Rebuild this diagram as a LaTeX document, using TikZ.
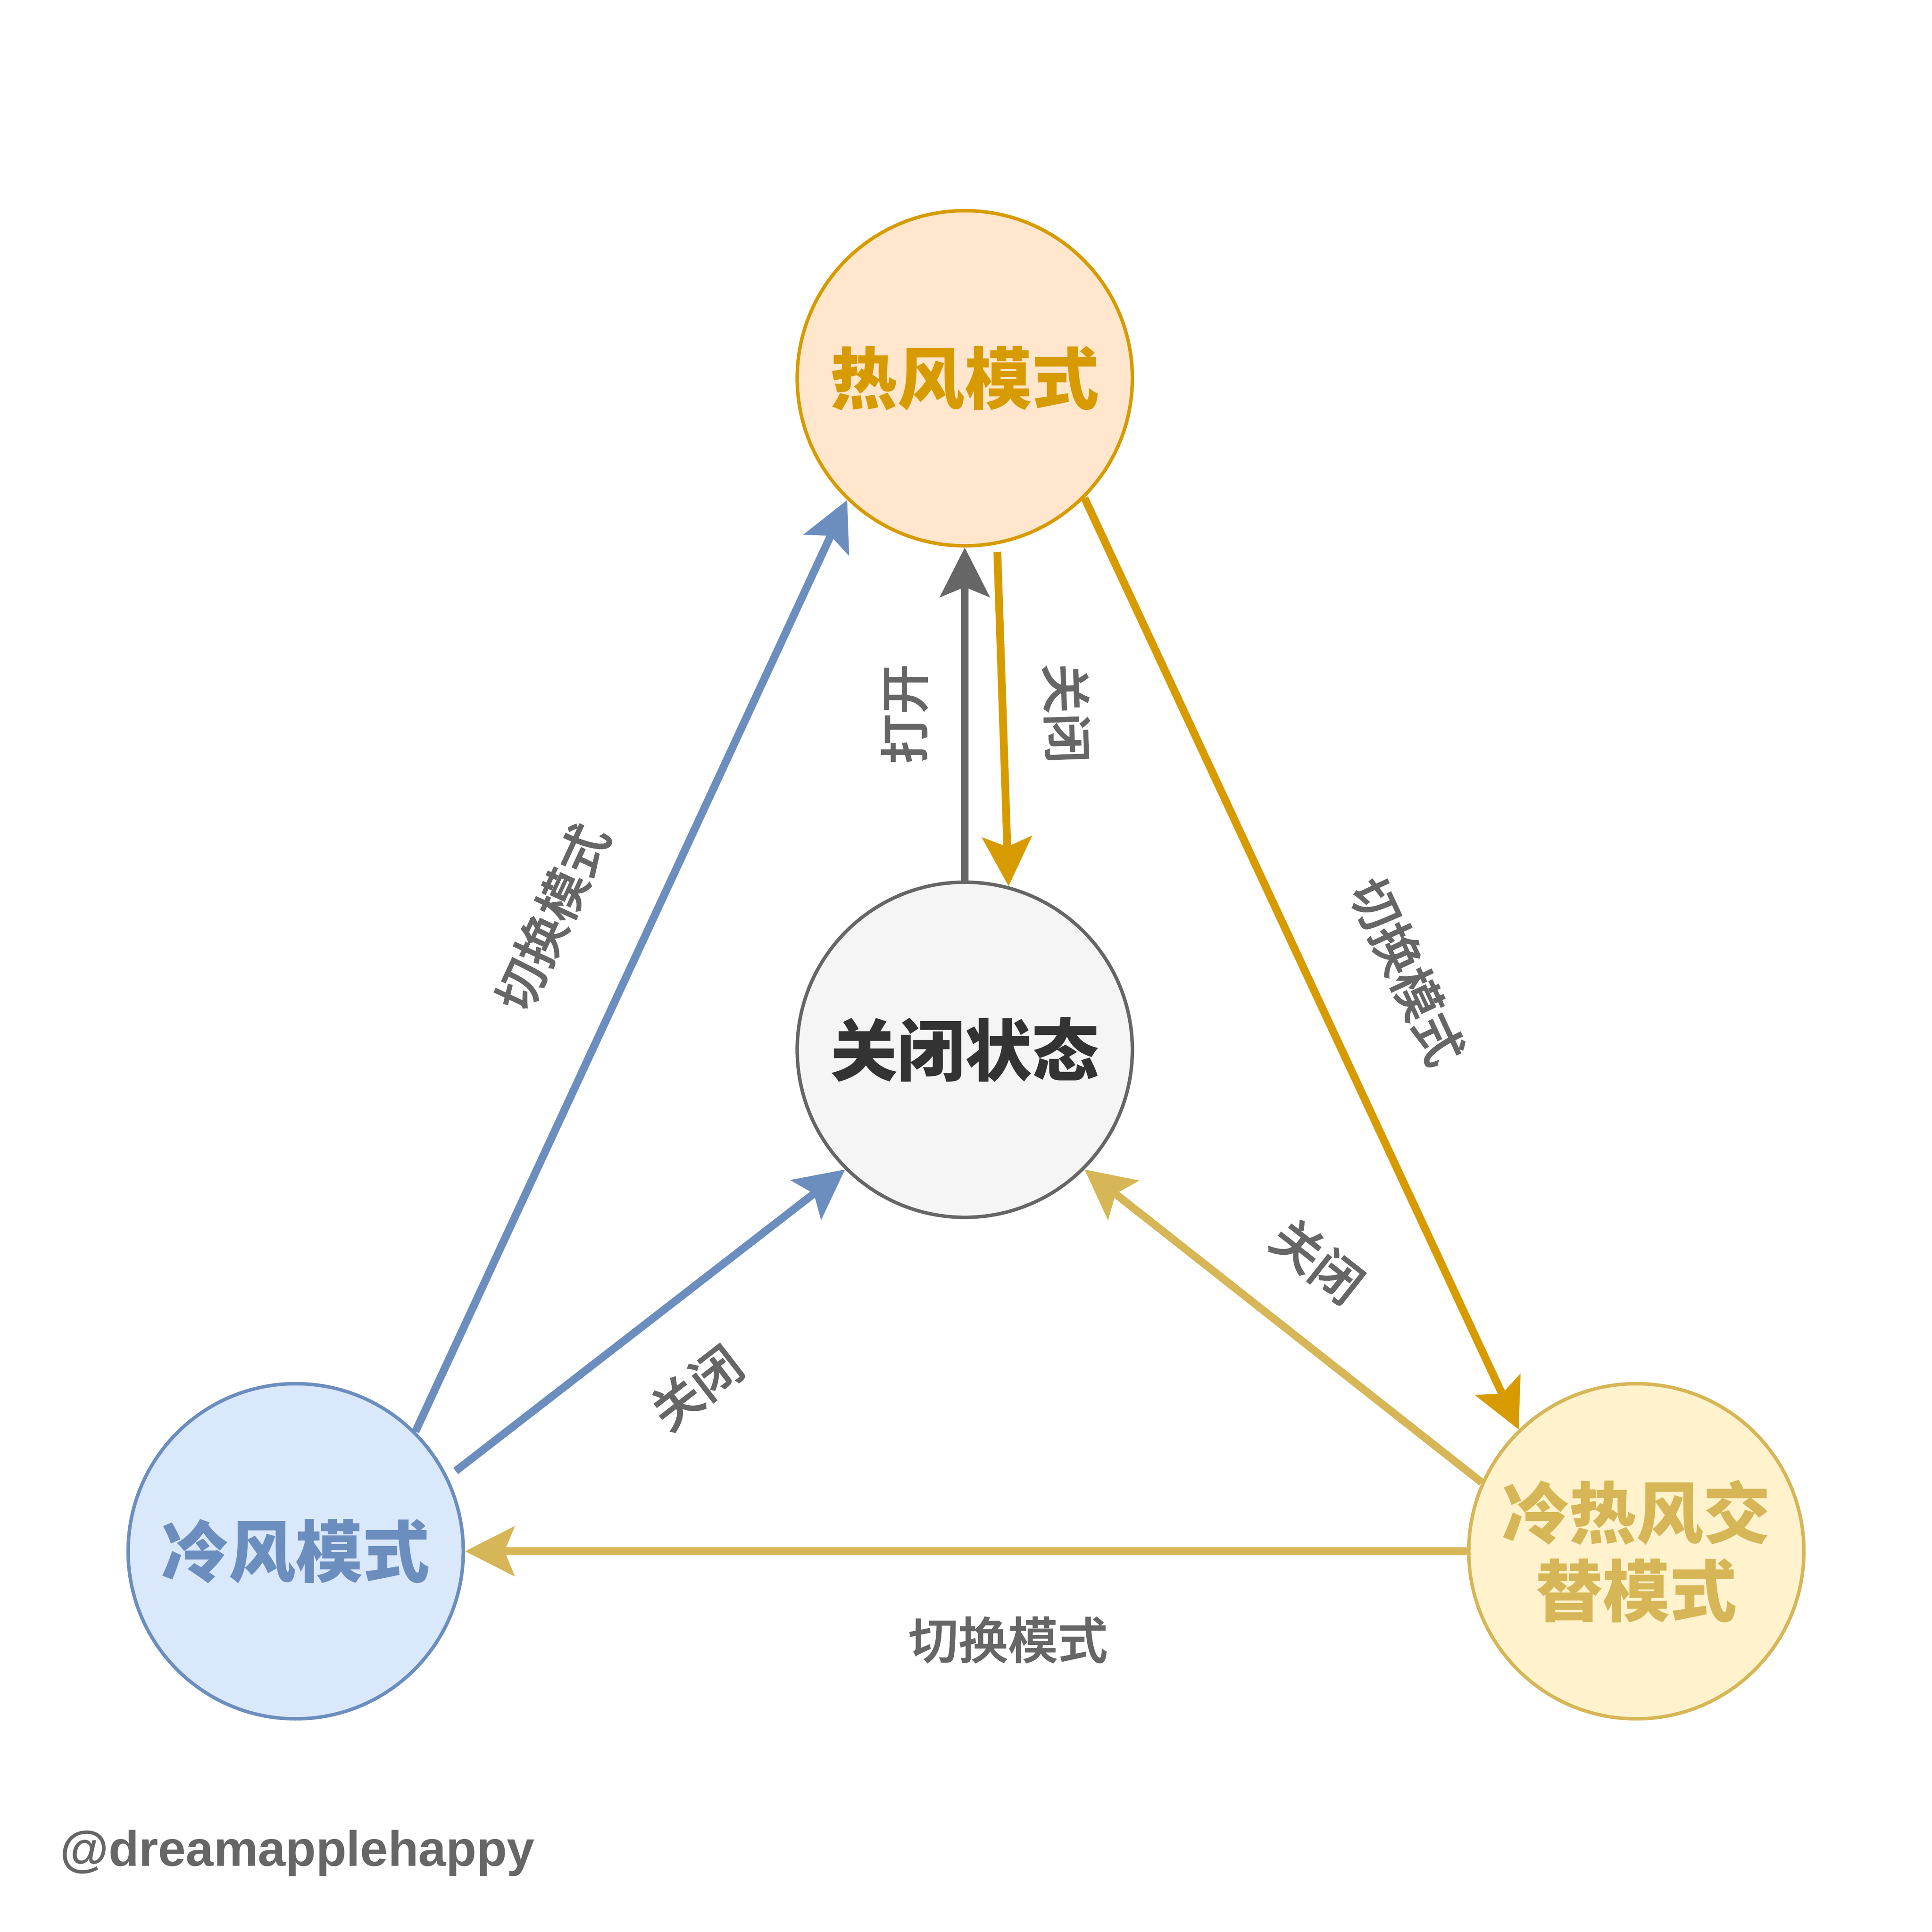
\documentclass[tikz,border=0pt]{standalone}
\usepackage{fontspec}
\setmainfont{Liberation Sans}
\newfontfamily\cjk{Noto Sans CJK SC}
\newfontfamily\cjkmid{Noto Sans CJK SC Medium}[FakeBold=1.2, UprightFeatures={FakeBold=1.2}]
\usetikzlibrary{arrows.meta}
\definecolor{hotfill}{HTML}{FFE6CC}
\definecolor{hotline}{HTML}{D79B00}
\definecolor{coldfill}{HTML}{DAE8FC}
\definecolor{coldline}{HTML}{6C8EBF}
\definecolor{altfill}{HTML}{FFF2CC}
\definecolor{altline}{HTML}{D6B656}
\definecolor{offfill}{HTML}{F5F5F5}
\definecolor{offline}{HTML}{666666}
\definecolor{offtext}{HTML}{333333}
\tikzset{
  mode/.style={circle, draw, line width=0.8pt, minimum size=2.72cm, inner sep=0pt, align=center,
    font=\cjk\bfseries\fontsize{15.5}{18}\selectfont},
  switch/.style={line width=1.8pt, -{Stealth[length=0.40cm, width=0.40cm, inset=0.08cm]}},
  tag/.style={sloped, inner sep=0pt, text=offline, font=\cjkmid\fontsize{11.5}{13}\selectfont}
}

\begin{document}
\begin{tikzpicture}
		%%%%% START %%%%%
		\useasboundingbox (0, -0.08) rectangle (15.68, 15.6);
		
		\node[mode, fill=hotfill, draw=hotline, text=hotline] (hot) at (7.83, 12.53) {热风模式};
		\node[mode, fill=offfill, draw=offline, text=offtext] (off) at (7.83, 7.08) {关闭状态};
		\node[mode, fill=coldfill, draw=coldline, text=coldline] (cold) at (2.40, 3.01) {冷风模式};
		\node[mode, fill=altfill, draw=altline, text=altline] (alt) at (13.28, 3.01) {冷热风交\\替模式};
		
		% off <-> hot
		\draw[switch, color=offline] (off.90) -- node[tag, above=0.27cm] {打开} (hot.270);
		\draw[switch, color=hotline, shorten <=0.06cm] (hot.281) -- node[tag, above=0.30cm] {关闭} (off.75);
		
		% cold
		\draw[switch, color=coldline] (cold.45) -- node[tag, above=0.53cm, pos=0.51] {切换模式} (hot.226);
		\draw[switch, color=coldline, shorten <=0.08cm] (cold.26) -- node[tag, below=0.44cm] {关闭} (off.225);
		
		% hot -> alt
		\draw[switch, color=hotline] (hot.315) -- node[tag, above=0.53cm, pos=0.55] {切换模式} (alt.134);
		
		% alt
		\draw[switch, color=altline] (alt.156) -- node[tag, above=0.37cm, pos=0.526] {关闭} (off.315);
		\draw[switch, color=altline] (alt.180) -- node[tag, below=0.50cm, pos=0.458] {切换模式} (cold.0);
		
		\node[anchor=west, inner sep=0pt, text=offline, font=\bfseries\fontsize{11.5}{13}\selectfont] (mark) at (0.48, 0.56) {@dreamapplehappy};
		
		%%%%% END %%%%%
	\end{tikzpicture}
\end{document}
